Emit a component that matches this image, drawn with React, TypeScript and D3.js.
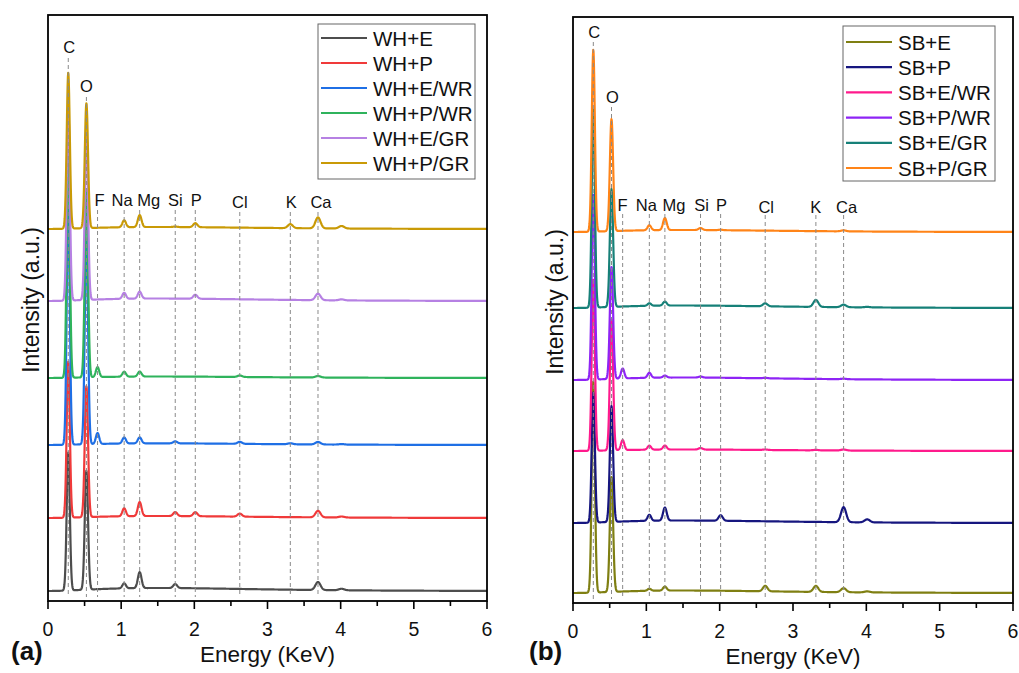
import React from "react";
import * as d3 from "d3";

// ---------- DATA ----------
const ELEMENT_LABELS = ["C", "O", "F", "Na", "Mg", "Si", "P", "Cl", "K", "Ca"];
const ELEMENT_ENERGIES = [0.277, 0.525, 0.677, 1.041, 1.253, 1.739, 2.013, 2.621, 3.312, 3.69];
// peaks used in the spectra: element lines + Ca K-beta (unlabelled)
const PEAK_ENERGIES = [0.277, 0.525, 0.677, 1.041, 1.253, 1.739, 2.013, 2.621, 3.312, 3.69, 4.012];

const X_TICKS = [0, 1, 2, 3, 4, 5, 6];

// Panel (a)
const WH_SERIES = ["WH+E", "WH+P", "WH+E/WR", "WH+P/WR", "WH+E/GR", "WH+P/GR"];
const WH_OFFSET = [10, 83, 156, 223, 300, 372];
const WH_BACKGROUND = [3, 2, 1.7, 1.5, 2.5, 2];
const WH_E = [138, 119, 0, 5, 16, 4, 0, 0, 0, 8, 1.5];
const WH_P = [156, 131, 0, 8, 14, 4, 4, 3, 0, 6.5, 1];
const WH_E_WR = [235, 205, 11, 6, 6, 2, 0, 2, 1, 2.5, 0.5];
const WH_P_WR = [228, 185, 10, 5, 5, 0, 0, 1.5, 0, 1.5, 0];
const WH_E_GR = [196, 166, 0, 6, 7, 0, 4, 0, 0, 6.5, 1];
const WH_P_GR = [156, 125, 0, 7, 12, 0.5, 4, 0, 4, 11, 2.5];

// Panel (b)
const SB_SERIES = ["SB+E", "SB+P", "SB+E/WR", "SB+P/WR", "SB+E/GR", "SB+P/GR"];
const SB_OFFSET = [10, 80, 152, 223, 295, 371];
const SB_BACKGROUND = [2.5, 2.5, 1.5, 2.5, 2.5, 2];
const SB_E = [211, 115, 0, 2, 4, 0, 0, 5.5, 6, 4, 1];
const SB_P = [130, 116, 0, 6, 13, 0, 5.5, 0, 0, 15, 3];
const SB_E_WR = [171, 131, 10, 4, 4, 1.5, 0, 0.5, 0.5, 1, 0];
const SB_P_WR = [185, 112, 10, 5, 2, 1, 0, 0.5, 0, 0.5, 0];
const SB_E_GR = [198, 118, 0, 2.5, 4, 0, 0, 3, 7, 2.5, 0.5];
const SB_P_GR = [182, 112, 0, 5, 12, 2, 0.5, 0, 0, 1, 0];

// ---------- STYLE ----------
const WH_COLORS = ["#4d4d4d", "#f03a3a", "#1f6fe5", "#2fb35c", "#b681e3", "#c99a06"];
const SB_COLORS = ["#7f7f12", "#16167f", "#ff1a8c", "#8e24f5", "#168078", "#ff8418"];
const FONT = "'Liberation Sans', Arial, Helvetica, sans-serif";

const sigmaAt = (e: number) => 0.02 + 0.004 * e;
const hump = (e: number) => Math.pow(e / 1.5, 2) * Math.exp(2 * (1 - e / 1.5));
const energies = d3.range(0, 6.0001, 0.004);

function spectrum(offset: number, bg: number, peaks: number[]) {
  return energies.map((e) => {
    let v = offset + bg * hump(e);
    peaks.forEach((h, i) => {
      const s = sigmaAt(PEAK_ENERGIES[i]);
      const d = e - PEAK_ENERGIES[i];
      if (h > 0 && Math.abs(d) < 6 * s) v += h * Math.exp(-(d * d) / (2 * s * s));
    });
    return [e, v] as [number, number];
  });
}

type PanelCfg = {
  left: number; top: number; right: number; bottom: number;
  names: string[]; colors: string[]; offsets: number[]; bgs: number[]; data: number[][];
  labelY: number[]; dashTop: number[]; labelDx: number[]; dashBottom: number;
  legend: { x: number; y: number; w: number; h: number; row0: number; gap: number };
  tag: string; tagX: number; yLabelX: number; xTitleY: number;
};

const PANEL_A: PanelCfg = {
  left: 48, top: 15, right: 487, bottom: 601,
  names: WH_SERIES, colors: WH_COLORS, offsets: WH_OFFSET, bgs: WH_BACKGROUND,
  data: [WH_E, WH_P, WH_E_WR, WH_P_WR, WH_E_GR, WH_P_GR],
  labelY: [53, 92, 206, 206, 206, 206, 206, 208, 208, 208],
  dashTop: [58, 97, 210, 210, 210, 210, 210, 212, 212, 212],
  labelDx: [1, 0, 2, -2, 9, 0, 1, 0, 1, 3],
  dashBottom: 597,
  legend: { x: 318, y: 24, w: 157, h: 155, row0: 38, gap: 25 },
  tag: "(a)", tagX: 11, yLabelX: 39, xTitleY: 662,
};

const PANEL_B: PanelCfg = {
  left: 573, top: 17, right: 1013, bottom: 603,
  names: SB_SERIES, colors: SB_COLORS, offsets: SB_OFFSET, bgs: SB_BACKGROUND,
  data: [SB_E, SB_P, SB_E_WR, SB_P_WR, SB_E_GR, SB_P_GR],
  labelY: [38, 103, 211, 211, 211, 211, 211, 213, 213, 213],
  dashTop: [42, 107, 214, 214, 214, 214, 214, 215, 215, 215],
  labelDx: [1, 1, 0, -3, 9, 1, 1, 1, 0, 3],
  dashBottom: 599,
  legend: { x: 843, y: 26, w: 152, h: 155, row0: 42, gap: 25.2 },
  tag: "(b)", tagX: 529, yLabelX: 563, xTitleY: 664,
};

function Panel({ cfg }: { cfg: PanelCfg }) {
  const x = d3.scaleLinear().domain([0, 6]).range([cfg.left, cfg.right]);
  const y = d3.scaleLinear().domain([0, 586]).range([cfg.bottom, cfg.top]);
  const line = d3.line<[number, number]>().x((d) => x(d[0])).y((d) => y(d[1])).curve(d3.curveLinear);
  const minor = d3.range(0.5, 6, 1);
  const midY = (cfg.top + cfg.bottom) / 2 - 8;
  const clipId = "clip" + cfg.tag.replace(/[()]/g, "");
  return (
    <g>
      <defs>
        <clipPath id={clipId}>
          <rect x={cfg.left} y={cfg.top} width={cfg.right - cfg.left} height={cfg.bottom - cfg.top} />
        </clipPath>
      </defs>
      <g clipPath={`url(#${clipId})`}>
        {cfg.data.map((pk, i) => (
          <path key={cfg.names[i]} d={line(spectrum(cfg.offsets[i], cfg.bgs[i], pk)) || ""}
            fill="none" stroke={cfg.colors[i]} strokeWidth={2.2} strokeLinejoin="round" />
        ))}
      </g>
      {ELEMENT_ENERGIES.map((e, i) => (
        <g key={ELEMENT_LABELS[i]}>
          <line x1={x(e)} x2={x(e)} y1={cfg.dashTop[i]} y2={cfg.dashBottom}
            stroke="#8a8a8a" strokeWidth={1} strokeDasharray="4,3" />
          <text x={x(e) + cfg.labelDx[i]} y={cfg.labelY[i]} textAnchor="middle"
            fontSize={16.5} fontFamily={FONT} fill="#111">{ELEMENT_LABELS[i]}</text>
        </g>
      ))}
      {/* frame */}
      <rect x={cfg.left} y={cfg.top} width={cfg.right - cfg.left} height={cfg.bottom - cfg.top}
        fill="none" stroke="#000" strokeWidth={1.8} />
      {/* x ticks */}
      {X_TICKS.map((t) => (
        <g key={"t" + t}>
          <line x1={x(t)} x2={x(t)} y1={cfg.bottom} y2={cfg.bottom + 8} stroke="#000" strokeWidth={1.6} />
          <text x={x(t)} y={cfg.bottom + 35} textAnchor="middle" fontSize={19.5} fontFamily={FONT} fill="#111">{t}</text>
        </g>
      ))}
      {minor.map((t) => (
        <line key={"m" + t} x1={x(t)} x2={x(t)} y1={cfg.bottom} y2={cfg.bottom + 5} stroke="#000" strokeWidth={1.6} />
      ))}
      <text x={(cfg.left + cfg.right) / 2} y={cfg.xTitleY} textAnchor="middle" fontSize={22.5}
        fontFamily={FONT} fill="#111">Energy (KeV)</text>
      <text transform={`translate(${cfg.yLabelX},${midY}) rotate(-90)`} textAnchor="middle" fontSize={23}
        fontFamily={FONT} fill="#111">Intensity (a.u.)</text>
      <text x={cfg.tagX} y={660} fontSize={26} fontWeight="bold" fontFamily={FONT} fill="#111">{cfg.tag}</text>
      {/* legend */}
      <rect x={cfg.legend.x} y={cfg.legend.y} width={cfg.legend.w} height={cfg.legend.h}
        fill="#fff" stroke="#666" strokeWidth={1} />
      {cfg.names.map((n, i) => {
        const ry = cfg.legend.row0 + i * cfg.legend.gap;
        return (
          <g key={"lg" + n}>
            <line x1={cfg.legend.x + 3} x2={cfg.legend.x + 49} y1={ry} y2={ry} stroke={cfg.colors[i]} strokeWidth={2.2} />
            <text x={cfg.legend.x + 55} y={ry + 7.5} fontSize={20.5} fontFamily={FONT} fill="#111">{n}</text>
          </g>
        );
      })}
    </g>
  );
}

export default function App() {
  return (
    <svg width={1019} height={673} style={{ position: "absolute", left: 0, top: 0, background: "#fff" }}>
      <rect x={0} y={0} width={1019} height={673} fill="#fff" />
      <Panel cfg={PANEL_A} />
      <Panel cfg={PANEL_B} />
    </svg>
  );
}
